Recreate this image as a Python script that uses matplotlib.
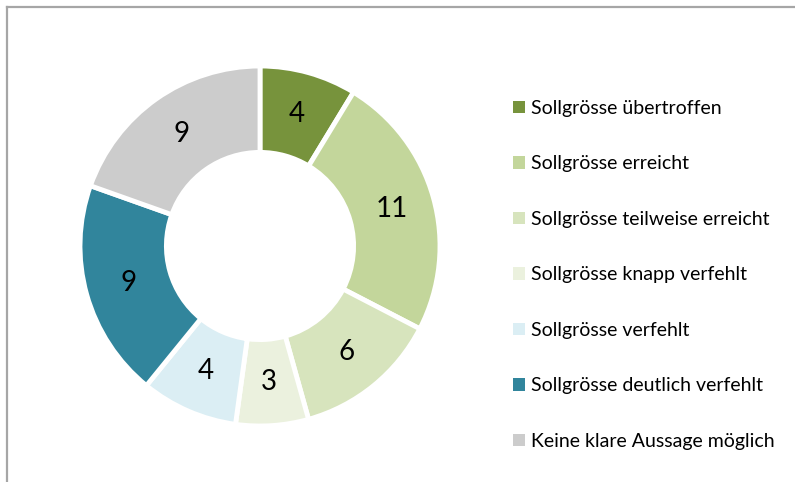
import matplotlib.pyplot as plt
from matplotlib.lines import Line2D

plt.rcParams['font.family'] = ['Lato', 'DejaVu Sans']

# Daten
labels = ['Sollgrösse übertroffen', 'Sollgrösse erreicht', 'Sollgrösse teilweise erreicht',
          'Sollgrösse knapp verfehlt', 'Sollgrösse verfehlt', 'Sollgrösse deutlich verfehlt',
          'Keine klare Aussage möglich']
values = [4, 11, 6, 3, 4, 9, 9]
colors = ['#77933C', '#C3D69B', '#D7E4BD', '#EBF1DE', '#DBEEF4', '#31859C', '#CCCCCC']

W, H = 795, 482
fig = plt.figure(figsize=(W / 100, H / 100), dpi=100)

# chart border (only top and left visible)
fig.add_artist(Line2D([7 / W, 7 / W], [0, 1 - 7 / H], color='#A6A6A6', lw=1.6))
fig.add_artist(Line2D([7 / W, 1], [1 - 7 / H, 1 - 7 / H], color='#A6A6A6', lw=1.6))

cx, cy, r = 260, 246, 180
ax = fig.add_axes([(cx - r) / W, (H - cy - r) / H, 2 * r / W, 2 * r / H])
wedges, texts = ax.pie(values, colors=colors, startangle=90, counterclock=False,
                       radius=1.0, labels=[str(v) for v in values], labeldistance=0.76,
                       wedgeprops=dict(width=0.48, edgecolor='white', linewidth=3.5),
                       textprops=dict(fontsize=20, color='black', ha='center', va='center'))
for t in texts:
    t.set_ha('center')
    t.set_va('center')
ax.set_xlim(-1, 1)
ax.set_ylim(-1, 1)
ax.set_aspect('equal')
ax.axis('off')

fig.legend(wedges, labels, loc='upper left', bbox_to_anchor=(505 / W, 1 - 92 / H),
           frameon=False, fontsize=14, handlelength=0.62, handleheight=0.62,
           handletextpad=0.3, labelspacing=1.98, borderaxespad=0)
for h in fig.legends[0].legend_handles:
    h.set_edgecolor('none')

plt.savefig('out.png', dpi=100)
